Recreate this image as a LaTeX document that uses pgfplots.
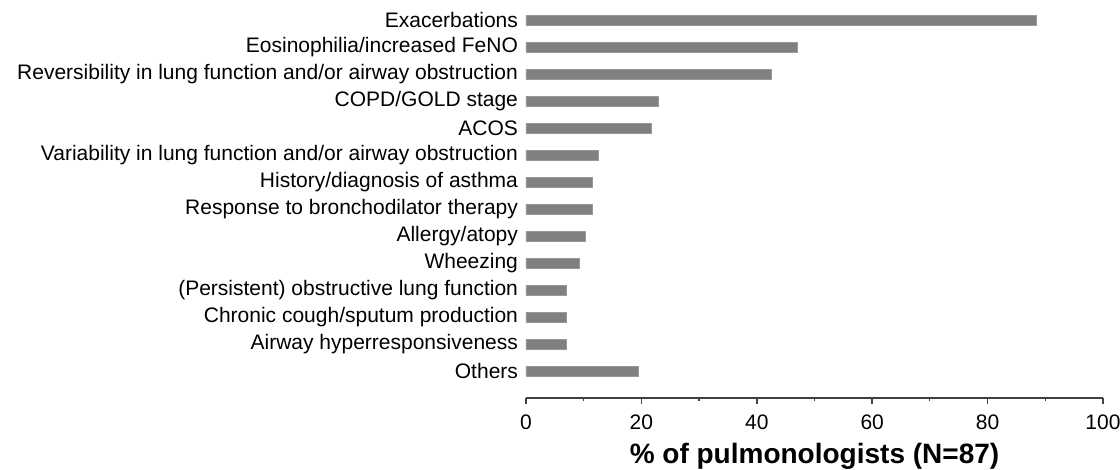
\documentclass[border=0pt]{standalone}
\usepackage{pgfplots}
\pgfplotsset{compat=1.18}
\usepackage{pgfplotstable}
\usepackage{fontspec}
\setmainfont{Liberation Sans}
\definecolor{barc}{HTML}{808080}
\definecolor{axc}{HTML}{404040}
\pgfplotstableread[col sep=comma]{
y,v
0,88.5
1,47.1
2,42.5
3,23.0
4,21.8
5,12.6
6,11.5
7,11.5
8,10.3
9,9.2
10,6.9
11,6.9
12,6.9
13,19.5
}\datatab
\begin{document}
\begin{tikzpicture}
\useasboundingbox (-263pt,-36pt) rectangle (297pt,199pt);
\begin{axis}[
  at={(0,0)}, anchor=south west,
  scale only axis,
  width=288.5pt, height=195.75pt,
  xmin=0, xmax=100,
  ymin=-0.5, ymax=14,
  y dir=reverse,
  axis x line*=bottom,
  axis y line*=left,
  y axis line style={draw=none},
  x axis line style={draw=axc, line width=0.8pt},
  xtick={0,20,40,60,80,100},
  minor xtick={10,30,50,70,90},
  xtick align=outside,
  major tick length=3pt,
  minor tick length=1.5pt,
  xtick style={draw=axc, line width=0.8pt},
  minor x tick style={draw=axc, line width=0.6pt},
  ytick={0,...,13},
  ytick style={draw=none},
  yticklabels={Exacerbations,Eosinophilia/increased FeNO,Reversibility in lung function and/or airway obstruction,COPD/GOLD stage,ACOS,Variability in lung function and/or airway obstruction,History/diagnosis of asthma,Response to bronchodilator therapy,Allergy/atopy,Wheezing,(Persistent) obstructive lung function,Chronic cough/sputum production,Airway hyperresponsiveness,Others},
  tick label style={font=\fontsize{10.5pt}{12pt}\selectfont},
  yticklabel style={xshift=2.5pt},
  /pgf/number format/assume math mode=true,
  xticklabel style={yshift=-2pt},
  xlabel={\textbf{\% of pulmonologists (N=87)}},
  xlabel style={font=\fontsize{14pt}{16pt}\selectfont, at={(rel axis cs:0.5,0)}, anchor=north, yshift=-19pt},
  xbar, bar width=5pt, bar shift=0pt,
  clip=false,
]
\addplot[fill=barc, draw=barc!80!white, line width=0.3pt] table[x=v, y=y] {\datatab};
\end{axis}
\end{tikzpicture}
\end{document}
